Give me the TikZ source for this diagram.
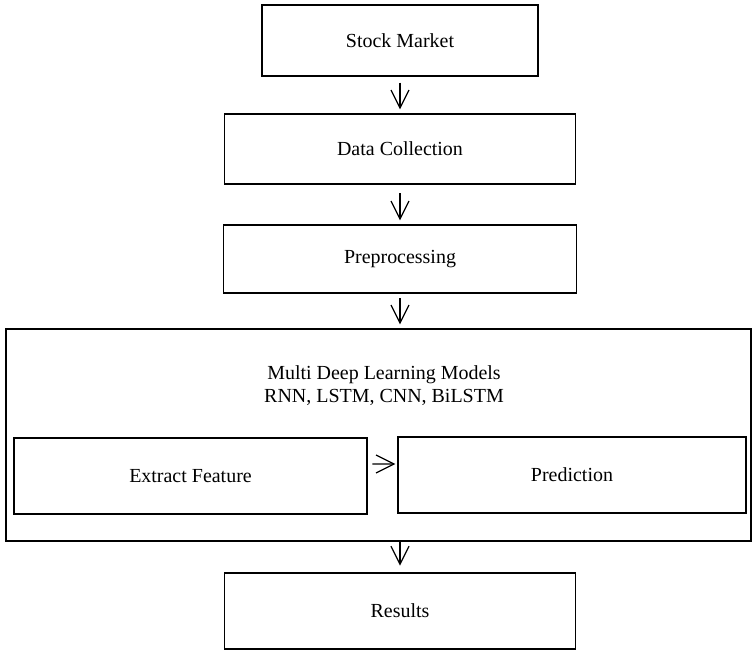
\documentclass[tikz,border=0pt]{standalone}
\usepackage{fontspec}
\setmainfont{Liberation Serif}
\usetikzlibrary{arrows.meta, positioning, calc}

\begin{document}
\begin{tikzpicture}[
            box/.style={draw, rectangle, line width=0.8pt, inner sep=0pt, font=\fontsize{14.2}{16.4}\selectfont},
            arrow/.style={-{Straight Barb[length=4.5mm, width=4.5mm]}, line width=0.9pt}
        ]
        \useasboundingbox (0,0) rectangle (18.8,-16.25);
        % --- main column ---
        \node[box, minimum width=6.9cm, minimum height=1.775cm] (market) at (10.0, -1.0125) {Stock Market};
        \node[box, minimum width=8.775cm, minimum height=1.75cm] (collect) at (10.0, -3.725) {Data Collection};
        \node[box, minimum width=8.825cm, minimum height=1.7cm] (prep) at (10.0, -6.475) {Preprocessing};
        % --- models block ---
        \node[box, minimum width=18.625cm, minimum height=5.3cm] (models) at (9.4625, -10.875) {};
        \node[font=\fontsize{14.2}{16.4}\selectfont, align=center] (modeltxt) at (9.6, -9.64) {Multi Deep Learning Models\\RNN, LSTM, CNN, BiLSTM};
        \node[box, minimum width=8.825cm, minimum height=1.9cm] (feature) at (4.7625, -11.9) {Extract Feature};
        \node[box, minimum width=8.7cm, minimum height=1.9cm] (predict) at (14.3, -11.875) {Prediction};
        \node[box, minimum width=8.775cm, minimum height=1.9cm] (results) at (10.0, -15.275) {Results};
        % --- arrows ---
        \draw[arrow, shorten <=0.15cm, shorten >=0.1cm] (market) -- (collect);
        \draw[arrow, shorten <=0.22cm, shorten >=0.1cm] (collect) -- (prep);
        \draw[arrow, shorten <=0.12cm, shorten >=0.1cm] (prep.south) -- (prep.south |- models.north);
        \draw[arrow, shorten >=0.17cm] (models.south -| results.north) -- (results.north);
        \draw[arrow, shorten <=0.12cm, shorten >=0.05cm] ([yshift=0.3cm]feature.east) -- ([yshift=0.275cm]predict.west);
        \end{tikzpicture}
\end{document}
